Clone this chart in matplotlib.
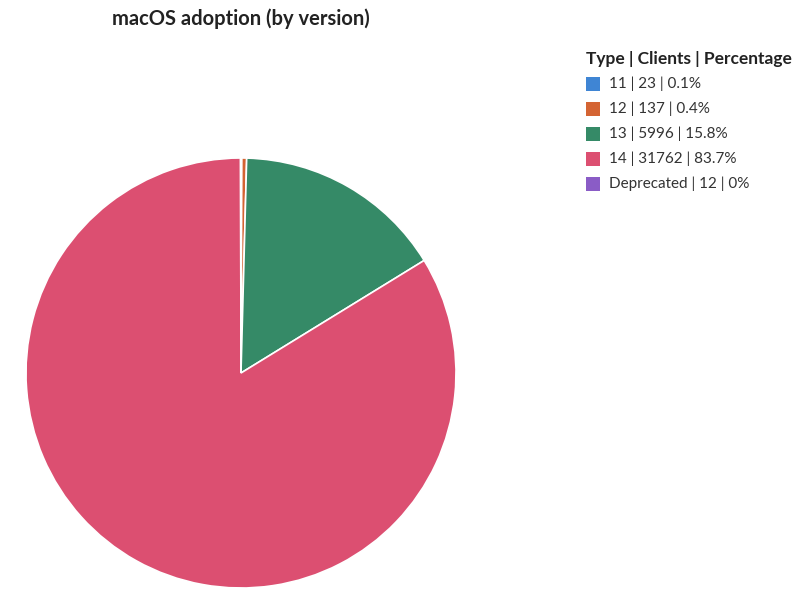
import matplotlib
matplotlib.use("Agg")
import matplotlib.pyplot as plt
from matplotlib.patches import Rectangle

types = ["11", "12", "13", "14", "Deprecated"]
clients = [23, 137, 5996, 31762, 12]
percent_labels = ["0.1%", "0.4%", "15.8%", "83.7%", "0%"]
colors = ["#3F85D4", "#D46433", "#358A67", "#DC4F71", "#8A5CC6"]

plt.rcParams['font.family'] = ['Lato', 'DejaVu Sans']

W, H = 800, 596
fig = plt.figure(figsize=(W / 100, H / 100), dpi=100)
cx, cy, r = 241, 373, 215
ax = fig.add_axes([(cx - r) / W, (H - cy - r) / H, 2 * r / W, 2 * r / H])
ax.pie(clients, colors=colors, startangle=90, counterclock=False,
       wedgeprops=dict(edgecolor="white", linewidth=1.2), radius=1.0)
ax.set_xlim(-1, 1)
ax.set_ylim(-1, 1)
ax.set_aspect("equal")
ax.axis("off")

fig.text(241 / W, 1 - 19 / H, "macOS adoption (by version)", ha="center", va="center",
         fontsize=14.5, fontweight="bold", color="#222222")

# Legend drawn in figure pixel coordinates
fig.text(586 / W, 1 - 59 / H, "Type | Clients | Percentage", ha="left", va="center",
         fontsize=12.5, fontweight="bold", color="#222222")
labels = [f"{t} | {c} | {p}" for t, c, p in zip(types, clients, percent_labels)]
for i, (lab, col) in enumerate(zip(labels, colors)):
    yc = 84 + 25 * i
    fig.patches.append(Rectangle((586 / W, 1 - (yc + 7) / H), 14 / W, 14 / H,
                                 transform=fig.transFigure, facecolor=col,
                                 edgecolor="none"))
    fig.text(609 / W, 1 - yc / H, lab, ha="left", va="center",
             fontsize=11, color="#333333")

fig.savefig("out.png", dpi=100)
